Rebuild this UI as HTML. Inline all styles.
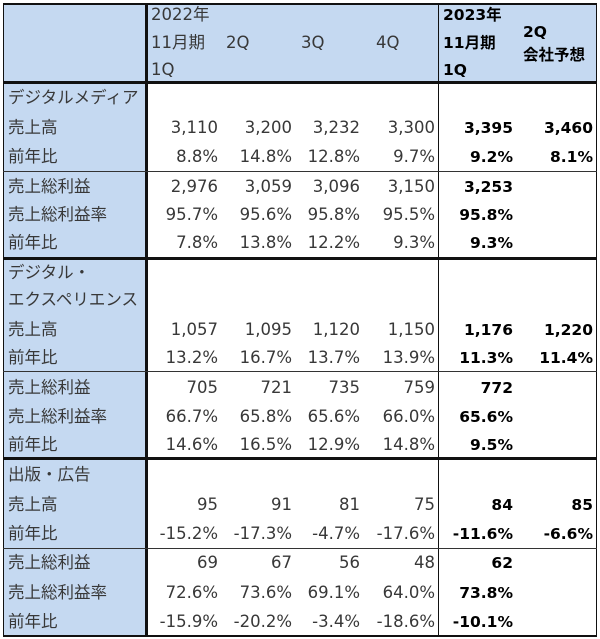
<!DOCTYPE html>
<html><head><meta charset="utf-8">
<style>
html,body{margin:0;padding:0;}
body{width:600px;height:639px;position:relative;overflow:hidden;background:#fff;}
.bg{position:absolute;background:#c5d9f1;}
.ln{position:absolute;background:#111;}
.t{position:absolute;height:20px;line-height:20px;font-size:16.5px;font-family:"DejaVu Sans","Noto Sans CJK JP",sans-serif;color:#383838;white-space:nowrap;}
.b{font-weight:bold;color:#000;font-size:15.5px;}
.c1{right:382px}.c2{right:308px}.c3{right:240px}.c4{right:165px}.c5{right:87px}.c6{right:7px}
.l{left:8px}
</style></head><body>
<!-- backgrounds -->
<div class="bg" style="left:3px;top:3px;width:594px;height:79px;"></div>
<div class="bg" style="left:3px;top:82px;width:143px;height:554px;"></div>

<!-- lines -->
<div class="ln" style="left:3px;top:3px;width:594px;height:1.5px;"></div>
<div class="ln" style="left:3px;top:635px;width:594px;height:1.5px;"></div>
<div class="ln" style="left:2.5px;top:3px;width:1.5px;height:633px;"></div>
<div class="ln" style="left:595.5px;top:3px;width:1.5px;height:633px;"></div>
<div class="ln" style="left:144.5px;top:3px;width:3px;height:633px;"></div>
<div class="ln" style="left:437.5px;top:3px;width:1.8px;height:633px;"></div>
<div class="ln" style="left:3px;top:81px;width:594px;height:3px;"></div>
<div class="ln" style="left:3px;top:171px;width:594px;height:1.3px;background:#333;"></div>
<div class="ln" style="left:3px;top:257px;width:594px;height:3px;"></div>
<div class="ln" style="left:3px;top:371px;width:594px;height:1.3px;background:#333;"></div>
<div class="ln" style="left:3px;top:456.5px;width:594px;height:3px;"></div>
<div class="ln" style="left:3px;top:547.5px;width:594px;height:1.3px;background:#333;"></div>

<!-- header -->
<div class="t" style="left:151px;top:5px;">2022年</div>
<div class="t" style="left:151px;top:33px;">11月期</div>
<div class="t" style="left:151px;top:60px;">1Q</div>
<div class="t" style="left:226px;top:33px;">2Q</div>
<div class="t" style="left:301px;top:33px;">3Q</div>
<div class="t" style="left:376px;top:33px;">4Q</div>
<div class="t b" style="left:443px;top:5px;">2023年</div>
<div class="t b" style="left:443px;top:33px;">11月期</div>
<div class="t b" style="left:443px;top:60px;">1Q</div>
<div class="t b" style="left:523px;top:22px;">2Q</div>
<div class="t b" style="left:523px;top:45px;">会社予想</div>

<!-- Digital Media -->
<div class="t l" style="top:88px;">デジタルメディア</div>
<div class="t l" style="top:118px;">売上高</div>
<div class="t c1" style="top:118px;">3,110</div><div class="t c2" style="top:118px;">3,200</div><div class="t c3" style="top:118px;">3,232</div><div class="t c4" style="top:118px;">3,300</div><div class="t b c5" style="top:118px;">3,395</div><div class="t b c6" style="top:118px;">3,460</div>
<div class="t l" style="top:147px;">前年比</div>
<div class="t c1" style="top:147px;">8.8%</div><div class="t c2" style="top:147px;">14.8%</div><div class="t c3" style="top:147px;">12.8%</div><div class="t c4" style="top:147px;">9.7%</div><div class="t b c5" style="top:147px;">9.2%</div><div class="t b c6" style="top:147px;">8.1%</div>
<div class="t l" style="top:177px;">売上総利益</div>
<div class="t c1" style="top:177px;">2,976</div><div class="t c2" style="top:177px;">3,059</div><div class="t c3" style="top:177px;">3,096</div><div class="t c4" style="top:177px;">3,150</div><div class="t b c5" style="top:177px;">3,253</div>
<div class="t l" style="top:205px;">売上総利益率</div>
<div class="t c1" style="top:205px;">95.7%</div><div class="t c2" style="top:205px;">95.6%</div><div class="t c3" style="top:205px;">95.8%</div><div class="t c4" style="top:205px;">95.5%</div><div class="t b c5" style="top:205px;">95.8%</div>
<div class="t l" style="top:233px;">前年比</div>
<div class="t c1" style="top:233px;">7.8%</div><div class="t c2" style="top:233px;">13.8%</div><div class="t c3" style="top:233px;">12.2%</div><div class="t c4" style="top:233px;">9.3%</div><div class="t b c5" style="top:233px;">9.3%</div>

<!-- Digital Experience -->
<div class="t l" style="top:263px;">デジタル・</div>
<div class="t l" style="top:290px;">エクスペリエンス</div>
<div class="t l" style="top:320px;">売上高</div>
<div class="t c1" style="top:320px;">1,057</div><div class="t c2" style="top:320px;">1,095</div><div class="t c3" style="top:320px;">1,120</div><div class="t c4" style="top:320px;">1,150</div><div class="t b c5" style="top:320px;">1,176</div><div class="t b c6" style="top:320px;">1,220</div>
<div class="t l" style="top:348px;">前年比</div>
<div class="t c1" style="top:348px;">13.2%</div><div class="t c2" style="top:348px;">16.7%</div><div class="t c3" style="top:348px;">13.7%</div><div class="t c4" style="top:348px;">13.9%</div><div class="t b c5" style="top:348px;">11.3%</div><div class="t b c6" style="top:348px;">11.4%</div>
<div class="t l" style="top:378px;">売上総利益</div>
<div class="t c1" style="top:378px;">705</div><div class="t c2" style="top:378px;">721</div><div class="t c3" style="top:378px;">735</div><div class="t c4" style="top:378px;">759</div><div class="t b c5" style="top:378px;">772</div>
<div class="t l" style="top:407px;">売上総利益率</div>
<div class="t c1" style="top:407px;">66.7%</div><div class="t c2" style="top:407px;">65.8%</div><div class="t c3" style="top:407px;">65.6%</div><div class="t c4" style="top:407px;">66.0%</div><div class="t b c5" style="top:407px;">65.6%</div>
<div class="t l" style="top:435px;">前年比</div>
<div class="t c1" style="top:435px;">14.6%</div><div class="t c2" style="top:435px;">16.5%</div><div class="t c3" style="top:435px;">12.9%</div><div class="t c4" style="top:435px;">14.8%</div><div class="t b c5" style="top:435px;">9.5%</div>

<!-- Publishing / Ads -->
<div class="t l" style="top:465px;">出版・広告</div>
<div class="t l" style="top:495px;">売上高</div>
<div class="t c1" style="top:495px;">95</div><div class="t c2" style="top:495px;">91</div><div class="t c3" style="top:495px;">81</div><div class="t c4" style="top:495px;">75</div><div class="t b c5" style="top:495px;">84</div><div class="t b c6" style="top:495px;">85</div>
<div class="t l" style="top:524px;">前年比</div>
<div class="t c1" style="top:524px;">-15.2%</div><div class="t c2" style="top:524px;">-17.3%</div><div class="t c3" style="top:524px;">-4.7%</div><div class="t c4" style="top:524px;">-17.6%</div><div class="t b c5" style="top:524px;">-11.6%</div><div class="t b c6" style="top:524px;">-6.6%</div>
<div class="t l" style="top:553px;">売上総利益</div>
<div class="t c1" style="top:553px;">69</div><div class="t c2" style="top:553px;">67</div><div class="t c3" style="top:553px;">56</div><div class="t c4" style="top:553px;">48</div><div class="t b c5" style="top:553px;">62</div>
<div class="t l" style="top:583px;">売上総利益率</div>
<div class="t c1" style="top:583px;">72.6%</div><div class="t c2" style="top:583px;">73.6%</div><div class="t c3" style="top:583px;">69.1%</div><div class="t c4" style="top:583px;">64.0%</div><div class="t b c5" style="top:583px;">73.8%</div>
<div class="t l" style="top:612px;">前年比</div>
<div class="t c1" style="top:612px;">-15.9%</div><div class="t c2" style="top:612px;">-20.2%</div><div class="t c3" style="top:612px;">-3.4%</div><div class="t c4" style="top:612px;">-18.6%</div><div class="t b c5" style="top:612px;">-10.1%</div>
</body></html>
